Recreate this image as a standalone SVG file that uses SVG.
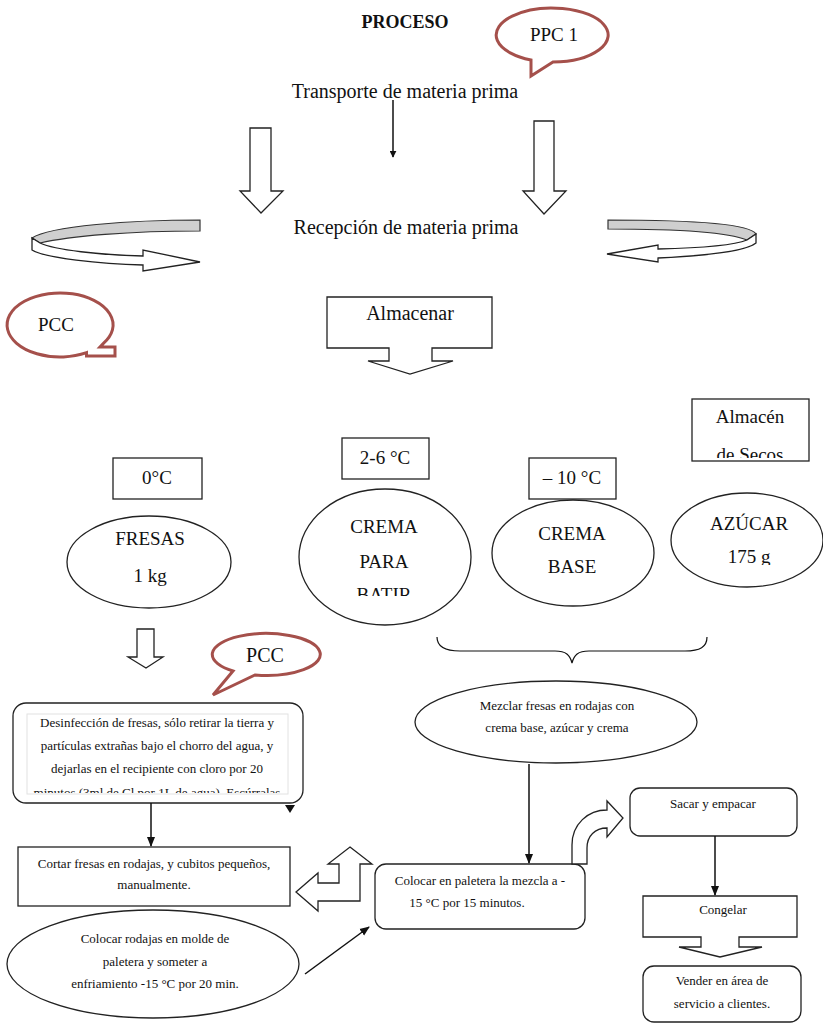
<svg xmlns="http://www.w3.org/2000/svg" width="823" height="1023" viewBox="0 0 823 1023">
<style>
text{font-family:"Liberation Serif","DejaVu Serif",serif;fill:#111;text-anchor:middle}
.t20{font-size:20px}
.t19{font-size:19px}
.t13{font-size:13px}
.sh{fill:#fff;stroke:#222;stroke-width:1.3}
.call{fill:#fff;stroke:#a5504b;stroke-width:3}
.ln{stroke:#111;stroke-width:1.5;fill:none}
.gray{fill:#cfcfcf;stroke:#333;stroke-width:1.2}
</style>
<defs>
<marker id="ah" viewBox="0 0 10 10" refX="9" refY="5" markerWidth="7" markerHeight="7" orient="auto" markerUnits="userSpaceOnUse">
<path d="M0,0 L10,5 L0,10 Z" fill="#111"/>
</marker>
<marker id="ah2" viewBox="0 0 10 10" refX="9" refY="5" markerWidth="10" markerHeight="10" orient="auto" markerUnits="userSpaceOnUse">
<path d="M0,1 L10,5 L0,9 Z" fill="#111"/>
</marker>
<clipPath id="cSecos"><rect x="692" y="399" width="117" height="59"/></clipPath>
<clipPath id="cBatir"><rect x="299" y="489" width="172" height="107"/></clipPath>
<clipPath id="cAzu"><rect x="671" y="492" width="152" height="73"/></clipPath>
<clipPath id="cDes"><rect x="20" y="705" width="275" height="88"/></clipPath>
</defs>

<g id="title"><text x="405" y="28" style="font-size:18px;font-weight:bold">PROCESO</text></g>

<g id="ppc1">
<path class="call" d="M531,60 A56,27 0 1 1 553,62 L531,76 Z"/>
<text class="t19" x="554" y="41">PPC 1</text>
</g>

<g id="transporte"><text class="t20" x="405" y="98">Transporte de materia prima</text></g>

<g id="arrowLeft"><path class="sh" d="M250,128 L271,128 L271,191 L283,191 L261,213 L240,191 L250,191 Z"/></g>
<g id="arrowRight"><path class="sh" d="M534,121 L554,121 L554,191 L566,191 L544,214 L523,191 L534,191 Z"/></g>

<g id="recepcion"><text class="t20" x="406" y="234">Recepción de materia prima</text></g>

<g id="loopLeft">
<path class="gray" d="M200,220 C130,220 50,226 32,238 L40,243 C70,236 130,231 200,231 Z"/>
<path class="sh" d="M32,238 L32,250 C45,258 100,264 143,265 L143,271 L200,262 L143,250 L143,256 C100,255 55,250 40,243 Z"/>
</g>
<g id="loopRight">
<path class="gray" d="M608,220 L608,229 C680,229 730,233 747,240 L756,234 C750,224 700,220 608,220 Z"/>
<path class="sh" d="M756,234 L756,243 C745,252 700,256 658,258 L658,262 L607,254 L658,245 L658,249 C700,248 735,245 747,240 Z"/>
</g>

<g id="pccLeft">
<path class="call" d="M86.5,352.7 A53,32 0 1 1 103.4,343.4 L100,347 L115,347 L115,356 L86.5,356 Z"/>
<text class="t19" x="56" y="331">PCC</text>
</g>

<g id="almacenar">
<path class="sh" d="M327,297 L492,297 L492,348 L432,348 L432,361 L453,361 L410,374 L368,361 L389,361 L389,348 L327,348 Z"/>
<text class="t20" x="410" y="320">Almacenar</text>
</g>

<g id="almacenSecos">
<rect class="sh" x="692" y="399" width="117" height="62"/>
<g clip-path="url(#cSecos)">
<text class="t19" x="750" y="423">Almacén</text>
<text class="t19" x="750" y="461">de Secos</text>
</g>
</g>

<g id="temp0"><rect class="sh" x="113" y="458" width="89" height="41"/><text class="t19" x="157" y="484">0°C</text></g>
<g id="temp26"><rect class="sh" x="342" y="438" width="87" height="41"/><text class="t19" x="385" y="464">2-6 °C</text></g>
<g id="temp10"><rect class="sh" x="529" y="458" width="87" height="41"/><text class="t19" x="572" y="484">– 10 °C</text></g>

<g id="fresas">
<ellipse class="sh" cx="149" cy="562" rx="82" ry="46"/>
<text class="t19" x="150" y="545">FRESAS</text>
<text class="t19" x="150" y="582">1 kg</text>
</g>
<g id="cremaBatir">
<ellipse class="sh" cx="385" cy="557" rx="86" ry="68"/>
<text class="t19" x="384" y="533">CREMA</text>
<text class="t19" x="384" y="568">PARA</text>
<g clip-path="url(#cBatir)"><text class="t19" x="384" y="601">BATIR</text></g>
</g>
<g id="cremaBase">
<ellipse class="sh" cx="573" cy="553" rx="81" ry="53"/>
<text class="t19" x="572" y="540">CREMA</text>
<text class="t19" x="572" y="573">BASE</text>
</g>
<g id="azucar">
<ellipse class="sh" cx="747" cy="540" rx="76" ry="47"/>
<text class="t19" x="749" y="530">AZÚCAR</text>
<g clip-path="url(#cAzu)"><text class="t19" x="749" y="563">175 g</text></g>
</g>

<g id="arrowFresas"><path class="sh" d="M137,629 L154,629 L154,657 L163,657 L146,668 L128,657 L137,657 Z"/></g>

<g id="pccMid">
<path class="call" d="M233,671 A54,21 0 1 1 255,675 L213,695 Z"/>
<text class="t20" x="265" y="662">PCC</text>
</g>

<g id="brace"><path class="ln" style="stroke-width:1.2" d="M437,637 C437,647 445,651 460,651 L555,651 C566,651 570,655 572,663 C574,655 578,651 589,651 L685,651 C700,651 707,647 707,637"/></g>

<g id="desinfeccion">
<rect class="sh" x="13" y="703" width="290" height="100" rx="13"/>
<rect x="27" y="714" width="261" height="80" fill="#fff" stroke="#e2e2e2" stroke-width="1"/>
<g clip-path="url(#cDes)">
<text class="t13" x="157" y="727">Desinfección de fresas, sólo retirar la tierra y</text>
<text class="t13" x="157" y="750">partículas extrañas bajo el chorro del agua, y</text>
<text class="t13" x="157" y="773">dejarlas en el recipiente con cloro por 20</text>
<text class="t13" x="157" y="797">minutos (3ml de Cl por 1L de agua). Escúrralas</text>
</g>
</g>

<g id="mezclar">
<ellipse class="sh" cx="556" cy="722" rx="141" ry="41"/>
<text class="t13" x="557" y="710">Mezclar fresas en rodajas con</text>
<text class="t13" x="557" y="732">crema base, azúcar  y crema</text>
</g>

<g id="cortar">
<rect class="sh" x="18" y="847" width="272" height="59"/>
<text class="t13" x="154" y="868">Cortar fresas en rodajas, y cubitos pequeños,</text>
<text class="t13" x="154" y="889">manualmente.</text>
</g>

<g id="colocarRodajas">
<ellipse class="sh" cx="153" cy="964" rx="146" ry="54"/>
<text class="t13" x="155" y="943">Colocar rodajas en molde de</text>
<text class="t13" x="155" y="966">paletera y someter a</text>
<text class="t13" x="155" y="988">enfriamiento -15 °C por 20 min.</text>
</g>

<g id="bentArrow"><path class="sh" d="M350,847 L372,864 L360,864 L360,901 L318,901 L318,911 L296,892 L318,873 L318,883 L339,883 L339,864 L328,864 Z"/></g>

<g id="colocarPaletera">
<rect class="sh" x="375" y="864" width="210" height="65" rx="11"/>
<text class="t13" x="480" y="885">Colocar en paletera la mezcla a -</text>
<text class="t13" x="467" y="907">15 °C por 15 minutos.</text>
</g>

<g id="curvedArrow"><path class="sh" d="M572,864 L572,845 C572,824 588,810 607,810 L607,801 L623,818 L607,837 L607,828 C595,828 587,836 587,848 L587,864 Z"/></g>

<g id="sacar">
<rect class="sh" x="630" y="788" width="167" height="48" rx="10"/>
<text class="t13" x="713" y="808">Sacar y empacar</text>
</g>

<g id="congelar">
<path class="sh" d="M643,896 L797,896 L797,937 L739,937 L739,947 L762,947 L720,957 L679,947 L701,947 L701,937 L643,937 Z"/>
<text class="t13" x="723" y="914">Congelar</text>
</g>

<g id="vender">
<rect class="sh" x="643" y="966" width="158" height="56" rx="11"/>
<text class="t13" x="722" y="985">Vender en área de</text>
<text class="t13" x="722" y="1008">servicio a clientes.</text>
</g>

<g id="connectors">
<line class="ln" x1="393" y1="100" x2="393" y2="157" marker-end="url(#ah)"/>
<line class="ln" x1="151" y1="803" x2="151" y2="846" marker-end="url(#ah2)"/>
<path d="M285,805 L295,805 L290,813 Z" fill="#111"/>
<line class="ln" x1="529" y1="764" x2="529" y2="863" marker-end="url(#ah2)"/>
<line class="ln" x1="305" y1="974" x2="369" y2="927" marker-end="url(#ah2)"/>
<line class="ln" x1="715" y1="836" x2="715" y2="895" marker-end="url(#ah2)"/>
</g>
</svg>
